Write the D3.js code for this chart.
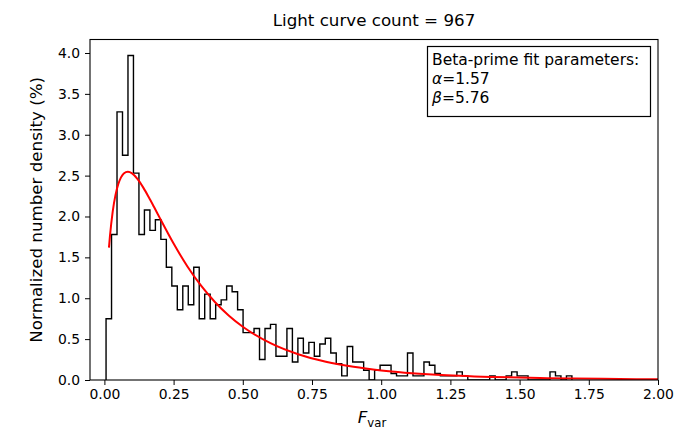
<html>
<head>
<meta charset="utf-8">
<style>
  body { margin: 0; background: white; }
  text { font-family: "DejaVu Sans", sans-serif; fill: black; }
</style>
</head>
<body>
<script src="https://d3js.org/d3.v7.min.js"></script>
<div id="chart"></div>
<script>
// histogram (step outline), density per bin
const binStart = 0.006;
const binWidth = 0.0198;
const binHeights = [
  0.75, 1.78, 3.28, 2.75, 3.97, 2.53, 1.78, 2.08, 1.83, 1.96,
  1.72, 1.38, 1.15, 0.86, 1.15, 0.92, 1.38, 0.75, 1.05, 0.75,
  0.92, 0.98, 1.15, 1.08, 0.86, 0.58, 0.58, 0.63, 0.25, 0.63,
  0.68, 0.29, 0.29, 0.63, 0.22, 0.51, 0.33, 0.46, 0.29, 0.44,
  0.51, 0.33, 0.20, 0.05, 0.41, 0.22, 0.22, 0.12, 0.00, 0.12,
  0.18, 0.18, 0.08, 0.05, 0.05, 0.33, 0.05, 0.05, 0.22, 0.18,
  0.08, 0.05, 0.05, 0.05, 0.10, 0.05, 0.00, 0.00, 0.00, 0.00,
  0.05, 0.00, 0.00, 0.05, 0.10, 0.05, 0.05, 0.00, 0.00, 0.00,
  0.00, 0.10, 0.05, 0.00, 0.05
];

// beta-prime fit curve, sampled points
const fitX = [0.0165, 0.02, 0.03, 0.04, 0.05, 0.06, 0.07, 0.085, 0.10, 0.12,
              0.14, 0.16, 0.18, 0.20, 0.25, 0.30, 0.35, 0.40, 0.45, 0.50,
              0.60, 0.70, 0.80, 0.90, 1.00, 1.20, 1.40, 1.60, 1.80, 2.00];
const fitY = [1.62, 1.756, 2.060, 2.261, 2.394, 2.478, 2.526, 2.547, 2.527, 2.457,
              2.356, 2.238, 2.112, 1.983, 1.669, 1.389, 1.150, 0.951, 0.786, 0.651,
              0.450, 0.315, 0.224, 0.161, 0.117, 0.0647, 0.0374, 0.0224, 0.0139, 0.0089];

const xTicks = [0, 0.25, 0.5, 0.75, 1.0, 1.25, 1.5, 1.75, 2.0];
const yTicks = [0, 0.5, 1.0, 1.5, 2.0, 2.5, 3.0, 3.5, 4.0];
const titleText = "Light curve count = 967";
const yLabel = "Normalized number density (%)";
const fitLines = ["Beta-prime fit parameters:", ["α", "=1.57"], ["β", "=5.76"]];

const width = 687, height = 430;
const mLeft = 90, mRight = 658, mTop = 39.5, mBottom = 380;

const svg = d3.select("#chart").append("svg")
  .attr("width", width)
  .attr("height", height);

const x = d3.scaleLinear().domain([-0.052, 2.0]).range([mLeft, mRight]);
const y = d3.scaleLinear().domain([0, 4.165]).range([mBottom, mTop]);

svg.append("clipPath").attr("id", "clip")
  .append("rect")
  .attr("x", mLeft).attr("y", mTop)
  .attr("width", mRight - mLeft).attr("height", mBottom - mTop);

// step outline of the histogram
let pts = [[binStart, 0]];
binHeights.forEach((h, i) => {
  pts.push([binStart + i * binWidth, h]);
  pts.push([binStart + (i + 1) * binWidth, h]);
});
pts.push([binStart + binHeights.length * binWidth, 0]);

const line = d3.line().x(d => x(d[0])).y(d => y(d[1]));

svg.append("path")
  .attr("d", line(pts))
  .attr("clip-path", "url(#clip)")
  .style("fill", "none")
  .style("stroke", "black")
  .style("stroke-width", 1.4);

// fit curve
const curve = d3.line()
  .x((d, i) => x(fitX[i]))
  .y(d => y(d))
  .curve(d3.curveMonotoneX);

svg.append("path")
  .attr("d", curve(fitY))
  .attr("clip-path", "url(#clip)")
  .style("fill", "none")
  .style("stroke", "#ff0000")
  .style("stroke-width", 2);

// axes
const xAxis = d3.axisBottom(x).tickValues(xTicks).tickFormat(d3.format(".2f"))
  .tickSize(5).tickPadding(4);
const yAxis = d3.axisLeft(y).tickValues(yTicks).tickFormat(d3.format(".1f"))
  .tickSize(5).tickPadding(5);

const gx = svg.append("g").attr("transform", `translate(0,${mBottom})`).call(xAxis);
const gy = svg.append("g").attr("transform", `translate(${mLeft},0)`).call(yAxis);
[gx, gy].forEach(g => {
  g.select(".domain").remove();
  g.selectAll("line").style("stroke", "black").style("stroke-width", 1);
  g.selectAll("text").style("font-family", "DejaVu Sans").style("font-size", "13.9px").style("fill", "black");
});

// frame
svg.append("rect")
  .attr("x", mLeft).attr("y", mTop)
  .attr("width", mRight - mLeft).attr("height", mBottom - mTop)
  .style("fill", "none")
  .style("stroke", "black")
  .style("stroke-width", 1.1);

// title
svg.append("text")
  .attr("x", (mLeft + mRight) / 2).attr("y", 26)
  .attr("text-anchor", "middle")
  .style("font-size", "16.7px")
  .text(titleText);

// y label
svg.append("text")
  .attr("transform", `translate(42,${(mTop + mBottom) / 2}) rotate(-90)`)
  .attr("text-anchor", "middle")
  .style("font-size", "16.7px")
  .text(yLabel);

// x label F_var
const xl = svg.append("text")
  .attr("x", (mLeft + mRight) / 2 - 2).attr("y", 423)
  .attr("text-anchor", "middle")
  .style("font-size", "16.7px");
xl.append("tspan").style("font-style", "italic").text("F");
xl.append("tspan").attr("dy", 4).style("font-size", "11.7px").text("var");

// fit parameter box
svg.append("rect")
  .attr("x", 427.5).attr("y", 46.5)
  .attr("width", 223).attr("height", 70)
  .style("fill", "white")
  .style("stroke", "black")
  .style("stroke-width", 1.2);

fitLines.forEach((t, i) => {
  const tx = svg.append("text")
    .attr("x", 432).attr("y", 65 + i * 19.2)
    .style("font-size", "15.5px");
  if (typeof t === "string") {
    tx.text(t);
  } else {
    tx.append("tspan").style("font-style", "italic").text(t[0]);
    tx.append("tspan").text(t[1]);
  }
});
</script>
</body>
</html>
